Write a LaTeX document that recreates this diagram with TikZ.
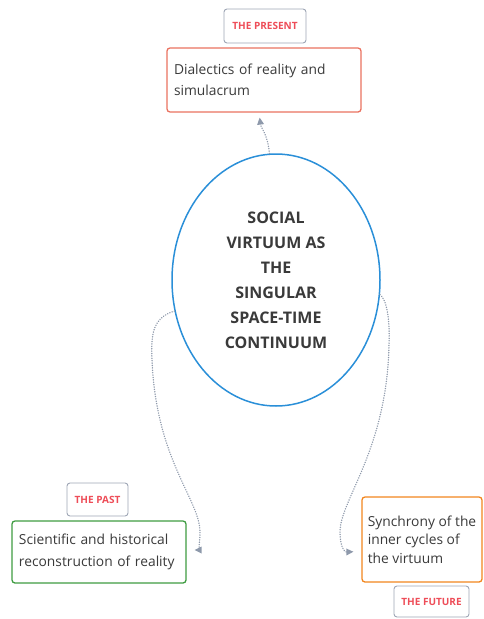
\documentclass[tikz,border=0pt]{standalone}
\usepackage{fontspec}
\setmainfont{Open Sans}
\usepackage{tikz}
\usetikzlibrary{arrows.meta,shapes.geometric}
\usetikzlibrary{positioning}
\definecolor{virtblue}{HTML}{2A8FD8}
\definecolor{presred}{HTML}{EA7260}
\definecolor{pastgreen}{HTML}{3F9C42}
\definecolor{futorange}{HTML}{F2861E}
\definecolor{tagframe}{HTML}{9EA6B5}
\definecolor{tagred}{HTML}{EE4D58}
\definecolor{linkgray}{HTML}{8E99AB}
\definecolor{inkgray}{HTML}{3A3A3A}
\tikzset{
    era/.style={draw=tagframe, rounded corners=3pt, fill=white, text=tagred,
        font=\bfseries\fontsize{10}{12}\selectfont, line width=0.9pt, inner sep=0pt},
    topic/.style={rounded corners=3pt, fill=white, text=inkgray, align=left,
        line width=1.3pt, inner xsep=7pt, inner ysep=0pt},
    virtuum/.style={ellipse, draw=virtblue, line width=1.5pt, inner sep=0pt,
        minimum width=208pt, minimum height=252pt, align=center, text=inkgray,
        font=\bfseries\fontsize{16}{25}\selectfont},
    link/.style={draw=linkgray, line width=1.5pt, line cap=round,
        dash pattern=on 0.1pt off 2.3pt,
        -{Triangle[length=7pt,width=7pt,fill=linkgray,line width=0pt]}},
}

\begin{document}
\begin{tikzpicture}[x=1pt, y=-1pt]
\useasboundingbox (0,0) rectangle (483,619);
	\node[virtuum] (virt) at (276,280) {SOCIAL\\VIRTUUM AS\\THE\\SINGULAR\\SPACE-TIME\\CONTINUUM};
	\node[era, minimum width=82pt, minimum height=34pt] (nowtag) at (265,26) {THE PRESENT};
	\node[topic, draw=presred, minimum width=194pt, minimum height=64pt, text width=180pt,
		font=\fontsize{13.8}{21.5}\selectfont] (present) at (264,80)
		{Dialectics of reality and\\simulacrum};
	\node[era, minimum width=61pt, minimum height=33pt] (pasttag) at (97.5,499.5) {THE PAST};
	\node[topic, draw=pastgreen, minimum width=174pt, minimum height=62pt, text width=160pt,
		font=\fontsize{13.8}{21.5}\selectfont] (past) at (99,552)
		{Scientific and historical\\reconstruction of reality};
	\node[topic, draw=futorange, minimum width=120pt, minimum height=85pt,
		inner xsep=5pt, font=\fontsize{13.8}{18.5}\selectfont] (future) at (422,539.5)
		{Synchrony of the\\inner cycles of\\the virtuum};
	\node[era, minimum width=75pt, minimum height=31pt] (futtag) at (431.5,601.5) {THE FUTURE};
	\draw[link, shorten >=5pt] (virt.93) .. controls (268,135) and (261,128) .. ([xshift=-5pt]present.south);
	\draw[link, shorten >=8pt] (virt.197) .. controls (152,318) and (151,335) .. (152,360)
		.. controls (156,460) and (200,500) .. (200,532)
		.. controls (200,546) and (197,550) .. ([yshift=2pt]past.east);
	\draw[link, shorten >=8pt] (virt.352) .. controls (387,300) and (390,320) .. (389,345)
		.. controls (387,450) and (340,500) .. (340,532)
		.. controls (340,548) and (345,552) .. ([yshift=-12pt]future.west);
\end{tikzpicture}
\end{document}
